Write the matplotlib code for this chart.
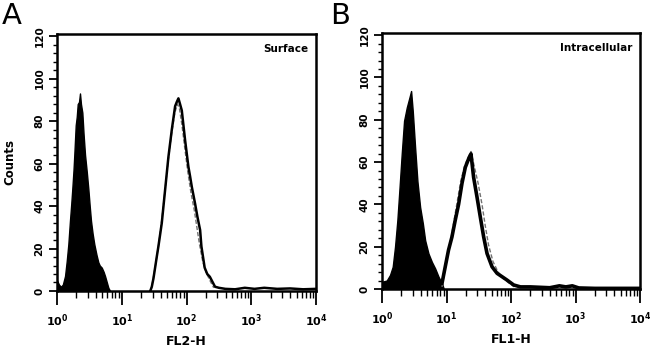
import numpy as np
import matplotlib
matplotlib.use("Agg")
import matplotlib.pyplot as plt
from matplotlib.ticker import FixedLocator, AutoMinorLocator, LogLocator, NullFormatter

# panel A (surface, FL2-H) - positions are log10 of channel value
a_fill_log = [0.0, 0.03, 0.06, 0.09, 0.124, 0.15, 0.175, 0.2, 0.22, 0.236, 0.255, 0.267, 0.289,
              0.305, 0.32, 0.34, 0.355, 0.37, 0.391, 0.41, 0.433, 0.46, 0.484, 0.505, 0.525,
              0.55, 0.576, 0.61, 0.638, 0.66, 0.691, 0.72, 0.742, 0.77, 0.793, 0.82]
a_fill_cnt = [5, 3, 2, 3, 7, 14, 22, 33, 41, 48, 57, 64, 78,
              82, 88, 89, 93, 88, 84, 74, 64, 56, 48, 40, 33,
              27, 22, 17, 13.5, 12, 11, 9, 7, 4, 1.5, 0]

a_line_log = [1.44, 1.464, 1.49, 1.515, 1.54, 1.566, 1.618, 1.669, 1.72, 1.773, 1.824, 1.85, 1.875,
              1.9, 1.927, 1.978, 2.029, 2.055, 2.082, 2.133, 2.168, 2.21, 2.23, 2.28, 2.32, 2.36,
              2.44, 2.5, 2.6, 2.75, 2.9, 3.05, 3.2, 3.4, 3.6, 3.8, 4.0]
a_line_cnt = [0, 2, 6, 11, 16, 21, 32, 47.5, 63, 76, 87, 89, 90.7,
              88, 85, 71, 58.5, 54, 49, 41, 35, 28.7, 21, 11, 8, 6.7,
              2, 1.5, 1, 0.8, 1.5, 1, 1.5, 1, 1.2, 0.8, 1]

a_dash_log = [1.45, 1.48, 1.52, 1.57, 1.62, 1.67, 1.72, 1.77, 1.82, 1.86, 1.89, 1.93, 1.97,
              2.02, 2.07, 2.12, 2.16, 2.2, 2.25, 2.3, 2.36, 2.42]
a_dash_cnt = [0, 5, 12, 22, 34, 48, 62, 74, 84, 88, 86, 78, 68,
              56, 46, 38, 30, 22, 14, 9, 5, 1.5]

# panel B (intracellular, FL1-H)
b_fill_log = [0.0, 0.073, 0.124, 0.166, 0.202, 0.238, 0.269, 0.306, 0.342, 0.384, 0.425, 0.451,
              0.477, 0.513, 0.549, 0.591, 0.633, 0.669, 0.72, 0.773, 0.824, 0.876, 0.928, 0.953]
b_fill_cnt = [3.4, 4, 6.6, 10.5, 20, 32.5, 46.6, 64, 79.5, 85.8, 90.5, 93.6,
              84, 67, 51, 38.7, 31, 23, 16.8, 12.8, 9.7, 5.8, 2.7, 0.5]

b_line_log = [0.93, 0.98, 1.031, 1.084, 1.135, 1.187, 1.24, 1.291, 1.342, 1.379, 1.42, 1.473,
              1.524, 1.576, 1.628, 1.706, 1.784, 1.862, 1.939, 2.042, 2.146, 2.3, 2.45, 2.6,
              2.75, 2.85, 2.95, 3.05, 3.3, 3.6, 4.0]
b_line_cnt = [2.7, 10.5, 18.4, 24.6, 32.5, 40, 50, 57.5, 61.5, 63.9, 52.8, 43.4,
              34, 24.6, 16.8, 10.5, 7.4, 5.8, 4.2, 1.9, 1, 1, 0.8, 0.6,
              1.5, 1, 1.5, 0.5, 0.3, 0.3, 0.3]

b_dash_log = [0.93, 0.97, 1.02, 1.07, 1.12, 1.17, 1.22, 1.28, 1.33, 1.38, 1.43, 1.49,
              1.55, 1.6, 1.65, 1.72, 1.8, 1.88, 1.96, 2.05]
b_dash_cnt = [1, 8, 16, 24, 33, 42, 51, 58, 62, 65, 58, 50,
              40, 30, 21, 13, 8, 5, 3, 1]

panels = [
    dict(letter="A", tag="Surface", xlabel="FL2-H", fill=(a_fill_log, a_fill_cnt),
         line=(a_line_log, a_line_cnt), dash=(a_dash_log, a_dash_cnt), lw=1.8,
         rect=[0.0877, 0.178, 0.3985, 0.726]),
    dict(letter="B", tag="Intracellular", xlabel="FL1-H", fill=(b_fill_log, b_fill_cnt),
         line=(b_line_log, b_line_cnt), dash=(b_dash_log, b_dash_cnt), lw=2.6,
         rect=[0.5877, 0.1836, 0.397, 0.723]),
]

fig = plt.figure(figsize=(6.5, 3.54), dpi=100)

for i, p in enumerate(panels):
    ax = fig.add_axes(p["rect"])
    fx = 10 ** np.array(p["fill"][0])
    ax.fill_between(fx, p["fill"][1], 0, color="black", lw=1.0, edgecolor="black")
    ax.plot(10 ** np.array(p["dash"][0]), p["dash"][1], color="0.45", lw=1.0,
            dashes=(3, 1.5))
    ax.plot(10 ** np.array(p["line"][0]), p["line"][1], color="black", lw=p["lw"])

    ax.set_xscale("log")
    ax.set_xlim(1, 1e4)
    ax.set_ylim(0, 121)

    ax.yaxis.set_major_locator(FixedLocator([0, 20, 40, 60, 80, 100, 120]))
    ax.yaxis.set_minor_locator(AutoMinorLocator(5))
    ax.xaxis.set_major_locator(FixedLocator([1, 10, 100, 1000, 10000]))
    ax.xaxis.set_minor_locator(LogLocator(base=10, subs=np.arange(2, 10)))
    ax.xaxis.set_minor_formatter(NullFormatter())
    ax.set_xticklabels([r"$\mathbf{10^{%d}}$" % k for k in range(5)])

    for lab in ax.get_yticklabels():
        lab.set_rotation(90)
        lab.set_va("center")
        lab.set_fontweight("bold")
    ax.tick_params(axis="y", which="major", length=6, width=1.3, labelsize=7.5, pad=3)
    ax.tick_params(axis="y", which="minor", length=3, width=1.0)
    ax.tick_params(axis="x", which="major", length=10, width=1.3, labelsize=8, pad=5.5)
    ax.tick_params(axis="x", which="minor", length=5, width=1.0)

    for s in ax.spines.values():
        s.set_linewidth(1.8)

    ax.text(0.97, 0.94, p["tag"], transform=ax.transAxes, ha="right", va="center",
            fontsize=7.5, fontweight="bold")
    ax.set_xlabel(p["xlabel"], fontsize=9, fontweight="bold", labelpad=4)
    if i == 0:
        ax.set_ylabel("Counts", fontsize=8.5, fontweight="bold", labelpad=13)

fig.text(0.003, 0.955, "A", fontsize=21, ha="left", va="center")
fig.text(0.508, 0.955, "B", fontsize=21, ha="left", va="center")

fig.savefig("out.png", dpi=100)
